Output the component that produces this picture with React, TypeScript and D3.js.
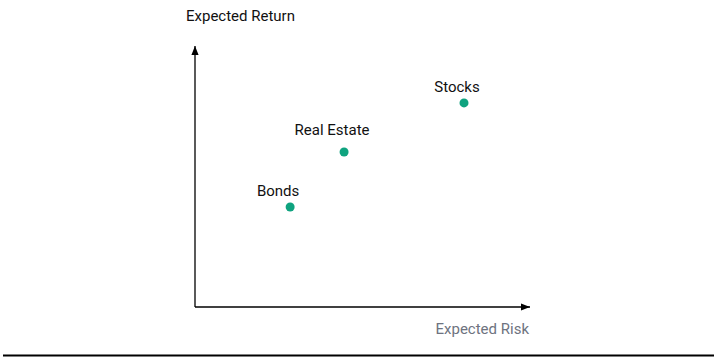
import React from "react";
import * as d3 from "d3";

const assets = ["Bonds", "Real Estate", "Stocks"];
const risk = [28.4, 44.5, 80.3];
const ret = [38.3, 59.4, 78.2];
const labelDx = [-12, -12, -7];
const labelDy = [-11, -17, -11];

const W = 717;
const H = 361;

export default function App() {
  const x = d3.scaleLinear().domain([0, 100]).range([195, 530]);
  const y = d3.scaleLinear().domain([0, 100]).range([307, 46]);
  const font = "Roboto, 'Noto Sans', sans-serif";
  return (
    <svg width={W} height={H} style={{ position: "absolute", left: 0, top: 0 }}>
      <defs>
        <marker id="arr" viewBox="0 0 10 10" refX="10" refY="5" markerWidth="9" markerHeight="9" markerUnits="userSpaceOnUse" orient="auto">
          <path d="M0,1 L10,5 L0,9 Z" fill="#000" />
        </marker>
      </defs>
      <text x={186} y={21} fontFamily={font} fontSize={15} fill="#111">Expected Return</text>
      <line x1={x(0)} y1={y(0)} x2={x(0)} y2={y(100)} stroke="#000" strokeWidth={1.3} markerEnd="url(#arr)" />
      <line x1={x(0)} y1={y(0)} x2={x(100)} y2={y(0)} stroke="#000" strokeWidth={1.3} markerEnd="url(#arr)" />
      <text x={529} y={334} textAnchor="end" fontFamily={font} fontSize={15} fill="#6e7380">Expected Risk</text>
      {assets.map((a, i) => (
        <g key={a}>
          <circle cx={x(risk[i])} cy={y(ret[i])} r={4.5} fill="#0fa37f" />
          <text x={x(risk[i]) + labelDx[i]} y={y(ret[i]) + labelDy[i]} textAnchor="middle" fontFamily={font} fontSize={15} fill="#111">{a}</text>
        </g>
      ))}
      <line x1={3} y1={355.5} x2={714} y2={355.5} stroke="#000" strokeWidth={2} />
    </svg>
  );
}
